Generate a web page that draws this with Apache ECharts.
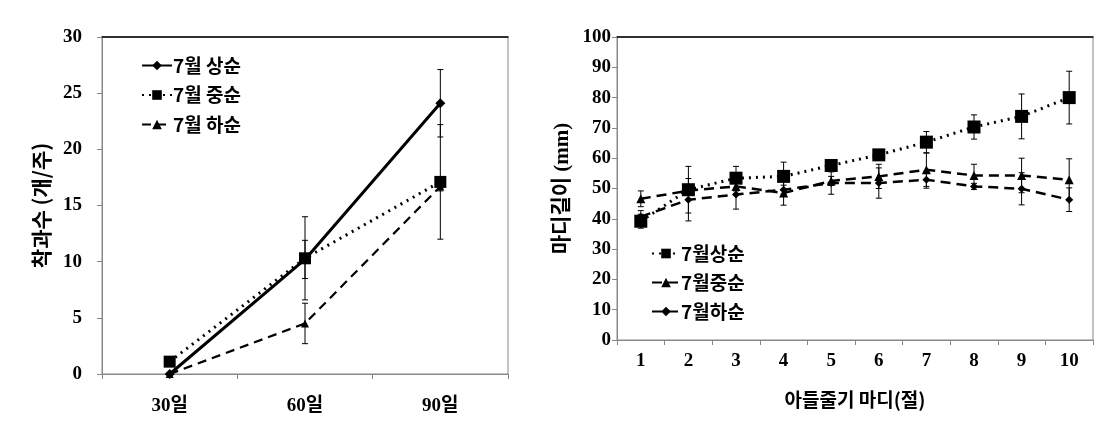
<!DOCTYPE html>
<html>
<head>
<meta charset="utf-8">
<script src="https://cdn.jsdelivr.net/npm/echarts@6/dist/echarts.min.js"></script>
<style>
    html, body { margin: 0; padding: 0; background: #fff; }
    #chart { width: 1111px; height: 435px; }
</style>
</head>
<body>
<div id="chart"></div>
<script>
    // left panel: 착과수
    const leftCategories = ['30일', '60일', '90일'];
    const leftEarly = [0, 10.2, 24.1];
    const leftEarlyErr = [0, 1.7, 3.0];
    const leftMid = [1.1, 10.3, 17.1];
    const leftMidErr = [0, 3.7, 5.1];
    const leftLate = [0, 4.5, 16.7];
    const leftLateErr = [0, 1.8, 0.4];

    // right panel: 마디길이
    const rightCategories = ['1', '2', '3', '4', '5', '6', '7', '8', '9', '10'];
    const rightEarly = [39.2, 49.6, 53.4, 54.0, 57.6, 61.1, 65.3, 70.3, 73.8, 80.0];
    const rightEarlyErr = [2.3, 7.7, 3.9, 4.7, 1.5, 1.0, 3.5, 4.0, 7.4, 8.7];
    const rightMid = [46.6, 49.3, 50.7, 48.5, 52.5, 54.0, 56.2, 54.3, 54.3, 52.9];
    const rightMidErr = [2.6, 1.5, 1.5, 4.0, 1.5, 4.0, 5.5, 3.7, 5.7, 6.9];
    const rightLate = [40.7, 46.3, 48.0, 49.6, 51.8, 51.8, 52.9, 50.7, 49.9, 46.3];
    const rightLateErr = [2.0, 7.0, 4.8, 1.5, 3.7, 5.0, 2.8, 1.0, 5.3, 3.9];

    const serifFont = '"Liberation Serif", "Noto Sans CJK KR", serif';
    const sansFont = '"Noto Sans CJK KR", sans-serif';
    const axisGrey = '#888888';

    function errorSeries(name, values, errs, gridIdx, capHalf) {
        return {
            name: name,
            type: 'custom',
            xAxisIndex: gridIdx * 2,
            yAxisIndex: gridIdx,
            z: 1,
            silent: true,
            data: values.map((v, i) => [i, v, errs[i]]),
            renderItem: function (params, api) {
                const err = api.value(2);
                if (!err) return;
                const x = api.value(0);
                const hi = api.coord([x, api.value(1) + err]);
                const lo = api.coord([x, api.value(1) - err]);
                const style = { stroke: '#000', lineWidth: 1 };
                return {
                    type: 'group',
                    children: [
                        { type: 'line', shape: { x1: hi[0], y1: hi[1], x2: lo[0], y2: lo[1] }, style: style },
                        { type: 'line', shape: { x1: hi[0] - capHalf, y1: hi[1], x2: hi[0] + capHalf, y2: hi[1] }, style: style },
                        { type: 'line', shape: { x1: lo[0] - capHalf, y1: lo[1], x2: lo[0] + capHalf, y2: lo[1] }, style: style }
                    ]
                };
            }
        };
    }

    function lineSeries(name, values, gridIdx, symbol, size, lineType, width) {
        return {
            name: name,
            type: 'line',
            xAxisIndex: gridIdx * 2,
            yAxisIndex: gridIdx,
            data: values,
            symbol: symbol,
            symbolSize: size,
            z: 3,
            itemStyle: { color: '#000' },
            lineStyle: { color: '#000', width: width, type: lineType }
        };
    }

    function bottomAxis(data, gridIdx, margin) {
        return {
            type: 'category',
            gridIndex: gridIdx,
            data: data,
            axisLine: { lineStyle: { color: axisGrey, width: 1 } },
            axisTick: { show: true, length: 5, lineStyle: { color: axisGrey } },
            axisLabel: { color: '#000', fontFamily: serifFont, fontWeight: 'bold', fontSize: 19, margin: margin },
            splitLine: { show: false }
        };
    }

    function topAxis(data, gridIdx) {
        return {
            type: 'category',
            gridIndex: gridIdx,
            position: 'top',
            data: data,
            axisLine: { show: true, lineStyle: { color: '#000', width: 1.5 } },
            axisTick: { show: false },
            axisLabel: { show: false }
        };
    }

    const dashA = [9, 6];
    const dotA = [2, 5];

    var option = {
        animation: false,
        backgroundColor: '#fff',
        grid: [
            { left: 102, top: 37, width: 406, height: 337, show: true, borderColor: axisGrey, borderWidth: 1 },
            { left: 617, top: 37, width: 476, height: 303, show: true, borderColor: axisGrey, borderWidth: 1 }
        ],
        legend: [
            {
                data: ['7월 상순', '7월 중순', '7월 하순'],
                orient: 'vertical',
                left: 136,
                top: 51,
                itemWidth: 30,
                itemHeight: 12,
                itemGap: 10.5,
                textStyle: { color: '#000', fontFamily: sansFont, fontWeight: 'bold', fontSize: 19, padding: [0, 0, 0, -4] }
            },
            {
                data: ['7월상순', '7월중순', '7월하순'],
                orient: 'vertical',
                left: 646,
                top: 239,
                itemWidth: 28,
                itemHeight: 12,
                itemGap: 10,
                textStyle: { color: '#000', fontFamily: sansFont, fontWeight: 'bold', fontSize: 19, padding: [0, 0, 0, -4] }
            }
        ],
        xAxis: [
            bottomAxis(leftCategories, 0, 23),
            topAxis(leftCategories, 0),
            Object.assign(bottomAxis(rightCategories, 1, 12), {
                name: '아들줄기 마디(절)',
                nameLocation: 'middle',
                nameGap: 50,
                nameTextStyle: { color: '#000', fontFamily: sansFont, fontWeight: 'bold', fontSize: 19 }
            }),
            topAxis(rightCategories, 1)
        ],
        yAxis: [
            {
                type: 'value',
                gridIndex: 0,
                min: 0,
                max: 30,
                interval: 5,
                name: '착과수 (개/주)',
                nameLocation: 'middle',
                nameGap: 50,
                nameTextStyle: { color: '#000', fontFamily: sansFont, fontWeight: 'bold', fontSize: 21 },
                axisLine: { show: true, lineStyle: { color: axisGrey } },
                axisTick: { show: true, length: 5, lineStyle: { color: axisGrey } },
                axisLabel: { color: '#000', fontFamily: serifFont, fontWeight: 'bold', fontSize: 19, margin: 20 },
                splitLine: { show: false }
            },
            {
                type: 'value',
                gridIndex: 1,
                min: 0,
                max: 100,
                interval: 10,
                name: '마디길이 (mm)',
                nameLocation: 'middle',
                nameGap: 44,
                nameTextStyle: { color: '#000', fontFamily: serifFont, fontWeight: 'bold', fontSize: 21 },
                axisLine: { show: true, lineStyle: { color: axisGrey } },
                axisTick: { show: true, length: 5, lineStyle: { color: axisGrey } },
                axisLabel: { color: '#000', fontFamily: serifFont, fontWeight: 'bold', fontSize: 19, margin: 6 },
                splitLine: { show: false }
            }
        ],
        series: [
            errorSeries('e1', leftEarly, leftEarlyErr, 0, 3),
            errorSeries('e2', leftMid, leftMidErr, 0, 3),
            errorSeries('e3', leftLate, leftLateErr, 0, 3),
            lineSeries('7월 상순', leftEarly, 0, 'diamond', 10, 'solid', 3),
            lineSeries('7월 중순', leftMid, 0, 'rect', 12, dotA, 3),
            lineSeries('7월 하순', leftLate, 0, 'triangle', 8, dashA, 2.2),

            errorSeries('e4', rightEarly, rightEarlyErr, 1, 3),
            errorSeries('e5', rightMid, rightMidErr, 1, 3),
            errorSeries('e6', rightLate, rightLateErr, 1, 3),
            lineSeries('7월상순', rightEarly, 1, 'rect', 13, dotA, 3),
            lineSeries('7월중순', rightMid, 1, 'triangle', 9, [10, 6], 2.5),
            lineSeries('7월하순', rightLate, 1, 'diamond', 8, [10, 6], 2.5)
        ]
    };

    var myChart = echarts.init(document.getElementById('chart'));
    myChart.setOption(option);
</script>
</body>
</html>
